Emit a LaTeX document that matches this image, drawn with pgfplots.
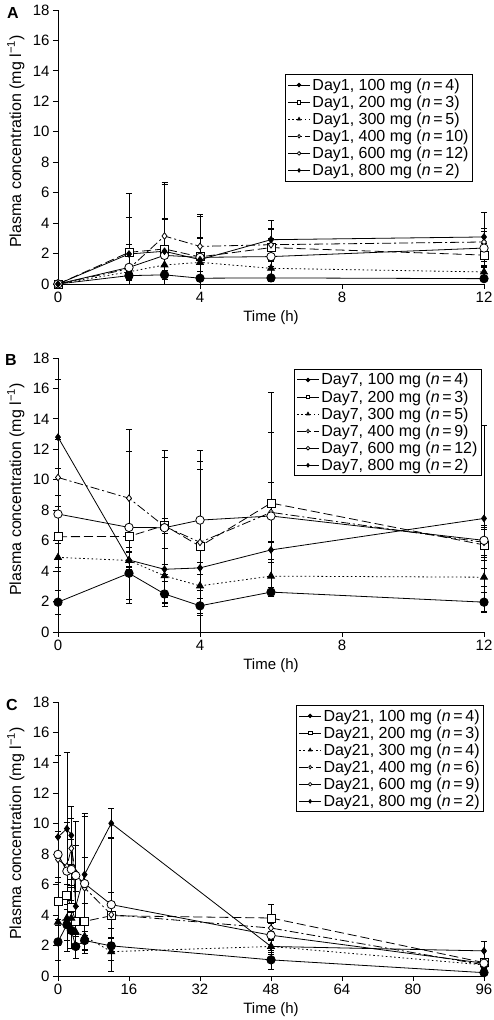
\documentclass[border=0pt]{standalone}
\usepackage{fontspec}
\setmainfont{Liberation Sans}
\usepackage{pgfplots}
\pgfplotsset{compat=1.18}
\newcommand{\fs}{\fontsize{15bp}{17bp}\selectfont}
\newcommand{\fl}{\fontsize{16bp}{17bp}\selectfont}
\pgfplotsset{
  /pgf/number format/assume math mode=true,
  table/tb/.style={x=t, y=v, y error plus=p, y error minus=m},
  panel/.style={
    scale only axis, width=426bp, height=274bp,
    ymin=0, ymax=18, ytick={0,2,...,18},
    axis lines*=left, axis line style={line width=0.8bp},
    tick style={black, line width=0.8bp}, major tick length=5bp, tick align=outside,
    clip=false,
    ticklabel style={font=\fs},
    xlabel style={font=\fs},
    ylabel style={font=\fl},
    ylabel={Plasma concentration (mg l\textsuperscript{−1})},
    xlabel={Time (h)},
    ylabel style={at={(axis description cs:-0.099,0.52)}, anchor=center},
    xlabel style={at={(axis description cs:0.5,0)}, anchor=center, yshift=-34bp},
    legend style={draw=black, line width=0.8bp, font=\fl, anchor=north east,
      legend cell align=left, row sep=0bp, inner sep=2bp},
    legend image code/.code={
      \draw[mark repeat=2,mark phase=2,#1, mark size=1.8bp] plot coordinates {(0bp,0bp) (11bp,0bp) (22bp,0bp)};},
    every axis plot/.append style={line width=0.8bp, black,
      error bars/y dir=both, error bars/y explicit,
      error bars/error bar style={line width=0.6bp, solid},
      error bars/error mark options={rotate=90, mark size=3bp, line width=0.6bp, solid}},
  },
  s100/.style={solid, mark=*, mark size=4.2bp, mark options={solid, fill=black}},
  s200/.style={dash pattern=on 9bp off 4bp, mark=square*, mark size=4bp, mark options={solid, fill=white}},
  s300/.style={dash pattern=on 1.6bp off 2.6bp, mark=triangle*, mark size=4bp, mark options={solid, fill=black}},
  s400/.style={dash pattern=on 9bp off 3bp on 2bp off 3bp, mark=diamond*, mark size=3.3bp, mark options={solid, fill=white}},
  s600/.style={solid, mark=*, mark size=4.2bp, mark options={solid, fill=white}},
  s800/.style={solid, mark=diamond*, mark size=3.3bp, mark options={solid, fill=black}},
}
\begin{document}
\begin{tikzpicture}
\path[use as bounding box] (0,0) rectangle (494bp,1020bp);
% ---------- Panel A ----------
\begin{axis}[panel, at={(58bp,736bp)}, anchor=south west,
  xmin=0, xmax=12, xtick={0,4,8,12},
  legend style={at={(axis description cs:0.974,0.766)}}]
\addplot[s100] table[tb, row sep=\\] {t v p m\\ 0 0 0 0\\ 2 0.55 0.3 0.3\\ 3 0.6 0.3 0.3\\ 4 0.38 0.2 0.2\\ 6 0.4 0.2 0.2\\ 12 0.35 0.15 0.15\\};
\addlegendentry{Day1, 100 mg (\textit{n}\,=\,4)}
\addplot[s200] table[tb, row sep=\\] {t v p m\\ 0 0 0 0\\ 2 2.08 2.3 2.08\\ 3 2.3 2.0 2.0\\ 4 1.78 1.2 1.2\\ 6 2.39 1.2 1.2\\ 12 1.9 0.8 0.8\\};
\addlegendentry{Day1, 200 mg (\textit{n}\,=\,3)}
\addplot[s300] table[tb, row sep=\\] {t v p m\\ 0 0 0 0\\ 2 0.8 0.5 0.5\\ 3 1.25 0.8 0.8\\ 4 1.42 0.6 0.6\\ 6 1.03 0.5 0.5\\ 12 0.79 0.4 0.4\\};
\addlegendentry{Day1, 300 mg (\textit{n}\,=\,5)}
\addplot[s400] table[tb, row sep=\\] {t v p m\\ 0 0 0 0\\ 2 1.0 1.0 1.0\\ 3 3.15 3.4 3.15\\ 4 2.47 2.0 2.0\\ 6 2.58 1.1 1.1\\ 12 2.76 0.9 0.9\\};
\addlegendentry{Day1, 400 mg (\textit{n}\,=\,10)}
\addplot[s600] table[tb, row sep=\\] {t v p m\\ 0 0 0 0\\ 2 1.09 1.5 1.09\\ 3 1.88 2.4 1.88\\ 4 1.75 1.3 1.3\\ 6 1.8 1.2 1.2\\ 12 2.36 1.1 1.1\\};
\addlegendentry{Day1, 600 mg (\textit{n}\,=\,12)}
\addplot[s800] table[tb, row sep=\\] {t v p m\\ 0 0 0 0\\ 2 1.97 4.0 1.97\\ 3 2.15 4.55 2.15\\ 4 1.6 3.0 1.6\\ 6 2.91 1.3 1.3\\ 12 3.09 1.6 1.6\\};
\addlegendentry{Day1, 800 mg (\textit{n}\,=\,2)}
\end{axis}
% ---------- Panel B ----------
\begin{axis}[panel, at={(58bp,388bp)}, anchor=south west,
  xmin=0, xmax=12, xtick={0,4,8,12},
  legend style={at={(axis description cs:0.995,0.96)}}]
\addplot[s100] table[tb, row sep=\\] {t v p m\\ 0 1.96 0.8 0.8\\ 2 3.86 1.7 1.7\\ 3 2.5 0.8 0.8\\ 4 1.72 0.5 0.5\\ 6 2.62 0.3 0.3\\ 12 1.96 0.65 0.65\\};
\addlegendentry{Day7, 100 mg (\textit{n}\,=\,4)}
\addplot[s200] table[tb, row sep=\\] {t v p m\\ 0 6.26 2.0 2.0\\ 2 6.28 2.5 2.5\\ 3 7.0 0.5 0.5\\ 4 5.63 5.6 5.63\\ 6 8.47 7.3 6.1\\ 12 5.72 1.0 1.0\\};
\addlegendentry{Day7, 200 mg (\textit{n}\,=\,3)}
\addplot[s300] table[tb, row sep=\\] {t v p m\\ 0 4.9 0.9 0.9\\ 2 4.7 0.6 0.6\\ 3 3.69 1.8 1.8\\ 4 3.03 1.2 1.2\\ 6 3.67 0.9 0.9\\ 12 3.6 0.6 0.6\\};
\addlegendentry{Day7, 300 mg (\textit{n}\,=\,5)}
\addplot[s400] table[tb, row sep=\\] {t v p m\\ 0 10.15 2.5 2.5\\ 2 8.79 4.5 4.5\\ 3 6.94 5.0 5.0\\ 4 5.89 4.8 4.8\\ 6 7.86 2.0 2.0\\ 12 5.89 1.0 1.0\\};
\addlegendentry{Day7, 400 mg (\textit{n}\,=\,9)}
\addplot[s600] table[tb, row sep=\\] {t v p m\\ 0 7.75 3.0 3.0\\ 2 6.87 5.0 5.0\\ 3 6.85 4.6 4.6\\ 4 7.35 4.6 4.6\\ 6 7.62 5.5 5.3\\ 12 6.02 1.0 1.0\\};
\addlegendentry{Day7, 600 mg (\textit{n}\,=\,12)}
\addplot[s800] table[tb, row sep=\\] {t v p m\\ 0 12.8 3.8 3.8\\ 2 4.73 0.5 0.5\\ 3 4.12 0.3 0.3\\ 4 4.21 0.4 0.4\\ 6 5.39 0.6 0.6\\ 12 7.46 6.1 6.1\\};
\addlegendentry{Day7, 800 mg (\textit{n}\,=\,2)}
\end{axis}
% ---------- Panel C ----------
\begin{axis}[panel, at={(58bp,44bp)}, anchor=south west,
  xmin=0, xmax=96, xtick={0,16,...,96},
  legend style={at={(axis description cs:1.0,0.989)}}]
\addplot[s100] table[tb, row sep=\\] {t v p m\\ 0 2.24 1.2 1.2\\ 2 3.37 1.0 1.0\\ 3 2.99 1.2 1.2\\ 4 1.94 0.8 0.8\\ 6 2.33 0.6 0.6\\ 12 1.98 0.5 0.5\\ 48 1.06 0.6 0.6\\ 96 0.22 0.2 0.2\\};
\addlegendentry{Day21, 100 mg (\textit{n}\,=\,4)}
\addplot[s200] table[tb, row sep=\\] {t v p m\\ 0 4.9 1.6 1.6\\ 2 5.28 2.0 2.0\\ 3 4.49 1.5 1.5\\ 4 3.59 1.0 1.0\\ 6 3.59 1.2 1.2\\ 12 3.96 0.8 0.8\\ 48 3.81 0.9 0.9\\ 96 0.88 0.3 0.3\\};
\addlegendentry{Day21, 200 mg (\textit{n}\,=\,3)}
\addplot[s300] table[tb, row sep=\\] {t v p m\\ 0 3.54 1.5 1.5\\ 2 3.8 2.2 2.2\\ 3 3.8 2.0 2.0\\ 4 2.88 1.0 1.0\\ 6 2.6 1.1 1.1\\ 12 1.6 0.6 0.6\\ 48 1.94 0.5 0.5\\ 96 0.73 0.3 0.3\\};
\addlegendentry{Day21, 300 mg (\textit{n}\,=\,4)}
\addplot[s400] table[tb, row sep=\\] {t v p m\\ 0 7.66 1.5 1.5\\ 2 7.2 2.5 2.5\\ 3 8.38 2.0 2.0\\ 4 6.78 3.4 3.4\\ 6 5.79 2.0 2.0\\ 12 4.03 1.5 1.5\\ 48 3.15 0.8 0.8\\ 96 0.73 0.2 0.2\\};
\addlegendentry{Day21, 400 mg (\textit{n}\,=\,6)}
\addplot[s600] table[tb, row sep=\\] {t v p m\\ 0 7.99 1.5 1.5\\ 2 6.89 3.2 3.2\\ 3 7.0 2.0 2.0\\ 4 6.6 2.0 2.0\\ 6 6.07 4.4 4.4\\ 12 4.69 4.4 4.4\\ 48 2.68 0.8 0.8\\ 96 0.84 0.3 0.3\\};
\addlegendentry{Day21, 600 mg (\textit{n}\,=\,9)}
\addplot[s800] table[tb, row sep=\\] {t v p m\\ 0 9.13 5.4 5.4\\ 2 9.68 5.0 5.0\\ 3 9.24 1.9 1.9\\ 4 4.58 1.0 1.0\\ 6 6.67 4.0 4.0\\ 12 10.03 1.0 1.0\\ 48 1.94 0.4 0.4\\ 96 1.65 0.65 0.65\\};
\addlegendentry{Day21, 800 mg (\textit{n}\,=\,2)}
\end{axis}
% panel letters
\node[font=\bfseries\fontsize{16bp}{16bp}\selectfont] at (13bp,1006.5bp) {A};
\node[font=\bfseries\fontsize{16bp}{16bp}\selectfont] at (11bp,660bp) {B};
\node[font=\bfseries\fontsize{16bp}{16bp}\selectfont] at (12bp,315bp) {C};
\end{tikzpicture}
\end{document}
